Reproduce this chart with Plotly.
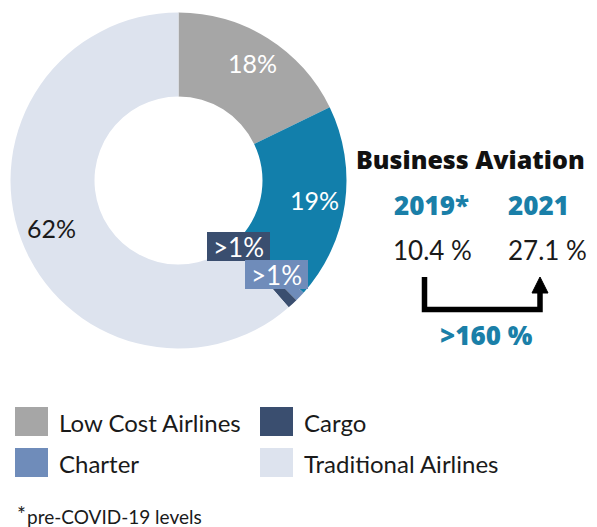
import plotly.graph_objects as go

# ---- data ----
segments = ["Low Cost Airlines", "Business Aviation", "Charter", "Cargo", "Traditional Airlines"]
shares = [18, 19, 1, 1, 62]
share_labels = ["18%", "19%", ">1%", ">1%", "62%"]
seg_colors = ["#a6a6a6", "#127fab", "#6f8cba", "#3a4e6f", "#dde3ee"]

legend_items = ["Low Cost Airlines", "Cargo", "Charter", "Traditional Airlines"]
ba_years = ["2019", "2021"]
ba_values = ["10.4 %", "27.1 %"]
ba_growth = ">160 %"

PAGE_W, PAGE_H = 597, 527
OFF = 8  # default page body margin
W, H = PAGE_W - OFF, PAGE_H - OFF
FONT = "Lato"
BFONT = "Open Sans"
TEAL = "#1a7fa8"

fig = go.Figure()

cx, cy, R = 178.5, 180.5, 168
def px2paper_x(px):
    return (px - OFF) / W
def px2paper_y(py):
    return 1 - (py - OFF) / H

fig.add_trace(go.Pie(
    labels=segments, values=shares, hole=0.5, sort=False, direction="clockwise",
    rotation=0, textinfo="none", hoverinfo="label+percent",
    marker=dict(colors=seg_colors, line=dict(width=0)),
    domain=dict(x=[px2paper_x(cx - R), px2paper_x(cx + R)],
                y=[px2paper_y(cy + R), px2paper_y(cy - R)]),
    showlegend=False,
))

# invisible pixel axes for overlays (coordinates = page pixels)
fig.add_trace(go.Scatter(x=[OFF, PAGE_W], y=[OFF, PAGE_H], mode="markers", marker=dict(opacity=0),
                         hoverinfo="skip", showlegend=False))

ann = []
shapes = []

def text(x, y, t, size, color="#1a1a1a", xanchor="center", family=FONT, weight=None):
    f = dict(family=family, size=size, color=color)
    if weight:
        f["weight"] = weight
    ann.append(dict(x=x, y=y, xref="x", yref="y", text=t, showarrow=False,
                    xanchor=xanchor, yanchor="middle", font=f))

# slice labels
text(252, 63, share_labels[0], 25, "white")
text(314, 200, share_labels[1], 25, "white")
text(51, 228, share_labels[4], 25, "#1a1a1a")
# small-slice label boxes (cargo, charter)
shapes.append(dict(type="rect", xref="x", yref="y", x0=207, x1=270, y0=232, y1=261,
                   fillcolor=seg_colors[3], line=dict(width=0)))
text(238.5, 247, share_labels[3], 26, "white")
shapes.append(dict(type="rect", xref="x", yref="y", x0=245, x1=308, y0=260, y1=289,
                   fillcolor=seg_colors[2], line=dict(width=0)))
text(276.5, 275, share_labels[2], 26, "white")

# Business Aviation panel
text(470, 159, "Business Aviation", 25, "#111111", family=BFONT, weight=800)
text(431, 205, ba_years[0] + "*", 26, TEAL, family=BFONT, weight=800)
text(538, 205, ba_years[1], 26, TEAL, family=BFONT, weight=800)
text(432, 250, ba_values[0], 26, "#1a1a1a")
text(547, 250, ba_values[1], 26, "#1a1a1a")
text(486, 335, ba_growth, 26, TEAL, family=BFONT, weight=800)

shapes.append(dict(type="path", xref="x", yref="y",
                   path="M424.5,277 V309.5 H540 V292",
                   line=dict(color="black", width=5.5)))
shapes.append(dict(type="path", xref="x", yref="y",
                   path="M532,293 L548,293 L540,277 Z",
                   fillcolor="black", line=dict(color="black", width=1)))

# custom legend
legend_pos = [(15, 407), (260, 407), (15, 448), (260, 448)]
for name, (lx, ly) in zip(legend_items, legend_pos):
    col = seg_colors[segments.index(name)]
    shapes.append(dict(type="rect", xref="x", yref="y", x0=lx, x1=lx + 33, y0=ly, y1=ly + 29,
                       fillcolor=col, line=dict(width=0)))
    text(lx + 42, ly + 15, name, 24, "#1a1a1a", xanchor="left")

# footnote
text(15, 513, "*", 21, "#1a1a1a", xanchor="left")
text(25, 516, "pre-COVID-19 levels", 19, "#1a1a1a", xanchor="left")

fig.update_layout(
    width=W, height=H, margin=dict(l=0, r=0, t=0, b=0),
    paper_bgcolor="white", plot_bgcolor="rgba(0,0,0,0)",
    xaxis=dict(range=[OFF, PAGE_W], visible=False, fixedrange=True),
    yaxis=dict(range=[PAGE_H, OFF], visible=False, fixedrange=True),
    annotations=ann, shapes=shapes, showlegend=False,
)

fig.write_html("out.html")
